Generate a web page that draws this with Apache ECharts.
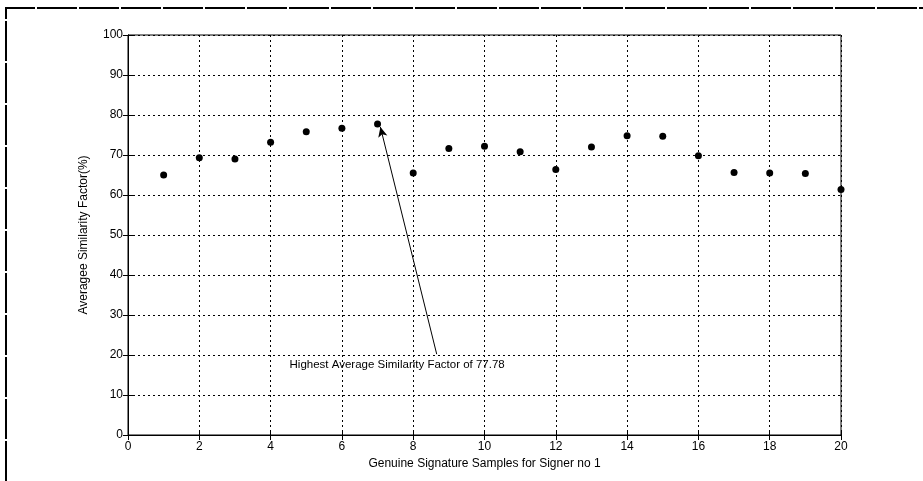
<!DOCTYPE html>
<html>
<head>
<meta charset="utf-8">
<script src="https://cdn.jsdelivr.net/npm/echarts@6/dist/echarts.min.js"></script>
<style>
  html, body { margin: 0; padding: 0; background: #fff; }
  #chart { width: 923px; height: 481px; }
</style>
</head>
<body>
<div id="chart"></div>
<script>
// signer 1 samples and their average similarity factor (%)
const samples = [1, 2, 3, 4, 5, 6, 7, 8, 9, 10, 11, 12, 13, 14, 15, 16, 17, 18, 19, 20];
const similarity = [65, 69.3, 69, 73.2, 75.8, 76.7, 77.78, 65.5, 71.6, 72.2, 70.8, 66.4, 72, 74.8, 74.7, 69.8, 65.6, 65.5, 65.4, 61.4];

const xTicks = [0, 2, 4, 6, 8, 10, 12, 14, 16, 18, 20];
const yTicks = [0, 10, 20, 30, 40, 50, 60, 70, 80, 90, 100];

// annotation: arrow from text to the max point
const noteText = "Highest Average Similarity Factor of 77.78";
const arrowFrom = [8.66, 20.2];
const arrowTo = [7.08, 77.0];
const notePos = [7.55, 17.6];

const chart = echarts.init(document.getElementById("chart"));

const font = "'Liberation Sans', Arial, sans-serif";

const axisCommon = {
  type: "value",
  axisLine: { show: true, lineStyle: { color: "#000", width: 1 } },
  axisTick: { show: true, inside: true, length: 5, lineStyle: { color: "#000" } },
};

const option = {
  animation: false,
  backgroundColor: "#fff",
  grid: {
    left: 128,
    right: 82,
    top: 35,
    bottom: 46,
    show: true,
    borderColor: "#000",
    borderWidth: 1,
  },
  graphic: [
    // outer frame of the figure (scan edge)
    {
      type: "polyline",
      shape: { points: [[6, 481], [6, 8], [923, 8]] },
      style: { stroke: "#000", lineWidth: 2, fill: null, lineDash: [40, 2] },
    },
  ],
  xAxis: [
    {
      ...axisCommon,
      min: 0,
      max: 20,
      interval: 2,
      name: "Genuine Signature Samples for Signer no 1",
      nameLocation: "middle",
      nameGap: 22,
      nameTextStyle: { color: "#000", fontFamily: font, fontSize: 12 },
      axisLabel: { color: "#000", fontFamily: font, fontSize: 12, margin: 6 },
      splitLine: { show: true, lineStyle: { color: "#000", type: [2, 3], width: 1 } },
    },
    {
      ...axisCommon,
      position: "top",
      min: 0,
      max: 20,
      interval: 2,
      axisLabel: { show: false },
      splitLine: { show: false },
    },
  ],
  yAxis: [
    {
      ...axisCommon,
      min: 0,
      max: 100,
      interval: 10,
      name: "Averagee Similarity Factor(%)",
      nameLocation: "middle",
      nameGap: 38,
      nameTextStyle: { color: "#000", fontFamily: font, fontSize: 12 },
      axisLabel: { color: "#000", fontFamily: font, fontSize: 12, margin: 5 },
      splitLine: { show: true, lineStyle: { color: "#000", type: [2, 3], width: 1 } },
    },
    {
      ...axisCommon,
      position: "right",
      min: 0,
      max: 100,
      interval: 10,
      axisLabel: { show: false },
      splitLine: { show: false },
    },
  ],
  series: [
    {
      type: "scatter",
      data: samples.map((s, i) => [s, similarity[i]]),
      symbol: "circle",
      symbolSize: 7,
      itemStyle: { color: "#000", opacity: 1 },
      z: 5,
      markLine: {
        silent: true,
        symbol: ["none", "arrow"],
        symbolSize: [7, 10],
        label: { show: false },
        lineStyle: { color: "#000", type: "solid", width: 1 },
        data: [[{ coord: arrowFrom }, { coord: arrowTo }]],
      },
      markPoint: {
        silent: true,
        symbol: "circle",
        symbolSize: 0,
        label: {
          show: true,
          position: "inside",
          formatter: noteText,
          color: "#000",
          fontFamily: font,
          fontSize: 11.5,
        },
        data: [{ coord: notePos }],
      },
    },
  ],
};

chart.setOption(option);
</script>
</body>
</html>
